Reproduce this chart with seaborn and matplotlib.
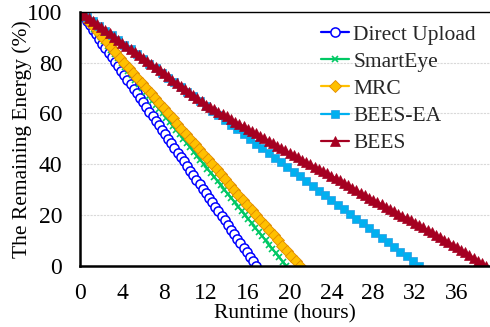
import numpy as np
import pandas as pd
import matplotlib
matplotlib.use("Agg")
import matplotlib.pyplot as plt
from matplotlib.ticker import MultipleLocator
import seaborn as sns

# ---- data ----
series_names = ["Direct Upload", "SmartEye", "MRC", "BEES-EA", "BEES"]

# sampling interval (hours) of each recorded series
interval_h = {"Direct Upload": 0.3, "SmartEye": 0.328, "MRC": 0.42,
              "BEES-EA": 0.6, "BEES": 0.4}

direct_upload = [100, 98.2, 96.4, 94.6, 92.9, 91.1, 89.3, 87.5, 85.7, 83.9,
                 82.1, 80.4, 78.6, 76.8, 75.0, 73.2, 71.4, 69.6, 67.9, 66.1,
                 64.3, 62.5, 60.7, 58.9, 57.1, 55.4, 53.6, 51.8, 50.0, 48.2,
                 46.4, 44.6, 42.9, 41.1, 39.3, 37.5, 35.7, 33.9, 32.1, 30.4,
                 28.6, 26.8, 25.0, 23.2, 21.4, 19.6, 17.9, 16.1, 14.3, 12.5,
                 10.7, 8.9, 7.1, 5.4, 3.6, 1.8, 0.0]
smarteye = [100, 98.3, 96.7, 95.0, 93.3, 91.7, 90.0, 88.3, 86.7, 85.0,
            83.3, 81.7, 80.0, 78.3, 76.7, 75.0, 73.3, 71.7, 70.0, 68.3,
            66.7, 65.0, 63.3, 61.7, 60.0, 58.3, 56.7, 55.0, 53.3, 51.7,
            50.0, 48.3, 46.7, 45.0, 43.3, 41.7, 40.0, 38.3, 36.7, 35.0,
            33.3, 31.7, 30.0, 28.3, 26.7, 25.0, 23.3, 21.7, 20.0, 18.3,
            16.7, 15.0, 13.3, 11.7, 10.0, 8.3, 6.7, 5.0, 3.3, 1.7, 0.0]
mrc = [100, 98, 96, 94, 92, 90, 88, 86, 84, 82, 80, 78, 76, 74, 72, 70,
       68, 66, 64, 62, 60, 58, 56, 54, 52, 50, 48, 46, 44, 42, 40, 38, 36,
       34, 32, 30, 28, 26, 24, 22, 20, 18, 16, 14, 12, 10, 8, 6, 4, 2, 0]
bees_ea = [100, 98.1, 96.3, 94.4, 92.6, 90.7, 88.9, 87.0, 85.2, 83.3,
           81.5, 79.6, 77.8, 75.9, 74.1, 72.2, 70.4, 68.5, 66.7, 64.8,
           63.0, 61.1, 59.3, 57.4, 55.6, 53.7, 51.9, 50.0, 48.1, 46.3,
           44.4, 42.6, 40.7, 38.9, 37.0, 35.2, 33.3, 31.5, 29.6, 27.8,
           25.9, 24.1, 22.2, 20.4, 18.5, 16.7, 14.8, 13.0, 11.1, 9.3,
           7.4, 5.6, 3.7, 1.9, 0.0]
bees = [100, 98.8, 97.6, 96.3, 95.1, 93.9, 92.7, 91.5, 90.2, 89.0, 87.8,
        86.6, 85.4, 84.2, 83.0, 81.8, 80.6, 79.4, 78.2, 77.0, 75.8,
        74.6, 73.3, 72.1, 70.9, 69.6, 68.4, 67.2, 66.0, 64.7, 63.5,
        62.5, 61.6, 60.6, 59.7, 58.8, 57.8, 56.8, 55.9, 54.9, 54.0,
        53.0, 52.1, 51.1, 50.2, 49.2, 48.3, 47.3, 46.4, 45.4, 44.5,
        43.6, 42.7, 41.8, 40.9, 40.0, 39.1, 38.2, 37.3, 36.4, 35.5,
        34.5, 33.6, 32.6, 31.7, 30.8, 29.8, 28.8, 27.9, 26.9, 26.0,
        25.1, 24.2, 23.3, 22.4, 21.5, 20.6, 19.7, 18.8, 17.9, 17.0,
        16.0, 15.1, 14.1, 13.2, 12.2, 11.3, 10.3, 9.4, 8.4, 7.5,
        6.4, 5.4, 4.3, 3.2, 2.1, 1.1, 0.0]

energy = {"Direct Upload": direct_upload, "SmartEye": smarteye, "MRC": mrc,
          "BEES-EA": bees_ea, "BEES": bees}

x_ticks = [0, 4, 8, 12, 16, 20, 24, 28, 32, 36]
y_ticks = [0, 20, 40, 60, 80, 100]

# ---- styles ----
styles = {
    "Direct Upload": dict(color="#0000FF", marker="o", ms=6.6, mfc="white", mec="#0000FF", mew=1.1),
    "SmartEye": dict(color="#00C864", marker="x", ms=4.8, mfc="#00C864", mec="#00C864", mew=1.2),
    "MRC": dict(color="#FFC000", marker="D", ms=6.2, mfc="#FFC000", mec="#E08A00", mew=0.6),
    "BEES-EA": dict(color="#00B0F0", marker="s", ms=6.2, mfc="#00B0F0", mec="#2A9AE0", mew=0.5),
    "BEES": dict(color="#A50021", marker="^", ms=6.6, mfc="#A50021", mec="#A50021", mew=0.5),
}

rows = []
for name in series_names:
    vals = energy[name]
    for i, v in enumerate(vals):
        rows.append({"series": name, "hours": i * interval_h[name], "energy": v})
df = pd.DataFrame(rows)

sns.set_theme(style="white")
plt.rcParams["font.family"] = ["Liberation Serif", "DejaVu Serif"]

fig = plt.figure(figsize=(4.9, 3.27), dpi=100)
ax = fig.add_axes([0.164, 0.187, 0.836, 0.777])

for name in series_names:
    st = styles[name]
    sub = df[df["series"] == name]
    sns.lineplot(data=sub, x="hours", y="energy", ax=ax, label=name,
                 color=st["color"], marker=st["marker"], markersize=st["ms"],
                 markerfacecolor=st["mfc"], markeredgecolor=st["mec"],
                 markeredgewidth=st["mew"], linewidth=1.6, clip_on=True)

ax.set_xlim(0, 39.17)
ax.set_ylim(0, 100)
ax.set_xticks(x_ticks)
ax.set_yticks(y_ticks)
ax.xaxis.set_minor_locator(MultipleLocator(0.5))
ax.yaxis.set_minor_locator(MultipleLocator(4))
ax.tick_params(axis="both", which="both", direction="in", colors="black",
               labelsize=17)
ax.tick_params(axis="x", which="major", length=5, width=1.0, pad=12)
ax.tick_params(axis="x", which="minor", length=4, width=1.0)
ax.tick_params(axis="y", which="major", length=5, width=1.0, pad=13)
ax.tick_params(axis="y", which="minor", length=4, width=1.0)

ax.yaxis.grid(True, which="major", color="#D9D9D9", linestyle=(0, (2, 1)), linewidth=0.8)
ax.set_axisbelow(True)

ax.spines["top"].set_color("black")
ax.spines["top"].set_linewidth(1.0)
ax.spines["right"].set_visible(False)
for side in ["left", "bottom"]:
    ax.spines[side].set_color("black")
    ax.spines[side].set_linewidth(1.8)

ax.set_xlabel("Runtime (hours)", fontsize=15.5, color="black")
ax.set_ylabel("The Remaining Energy (%)", fontsize=15.5, color="black")
ax.xaxis.set_label_coords(0.5, -0.152)
ax.yaxis.set_label_coords(-0.118, 0.5)

leg = ax.legend(loc="upper right", frameon=False, fontsize=15.5,
                handlelength=1.3, handletextpad=0.2, labelspacing=0.33,
                borderaxespad=0.0, bbox_to_anchor=(0.987, 0.984))

fig.savefig("out.png", dpi=100)
